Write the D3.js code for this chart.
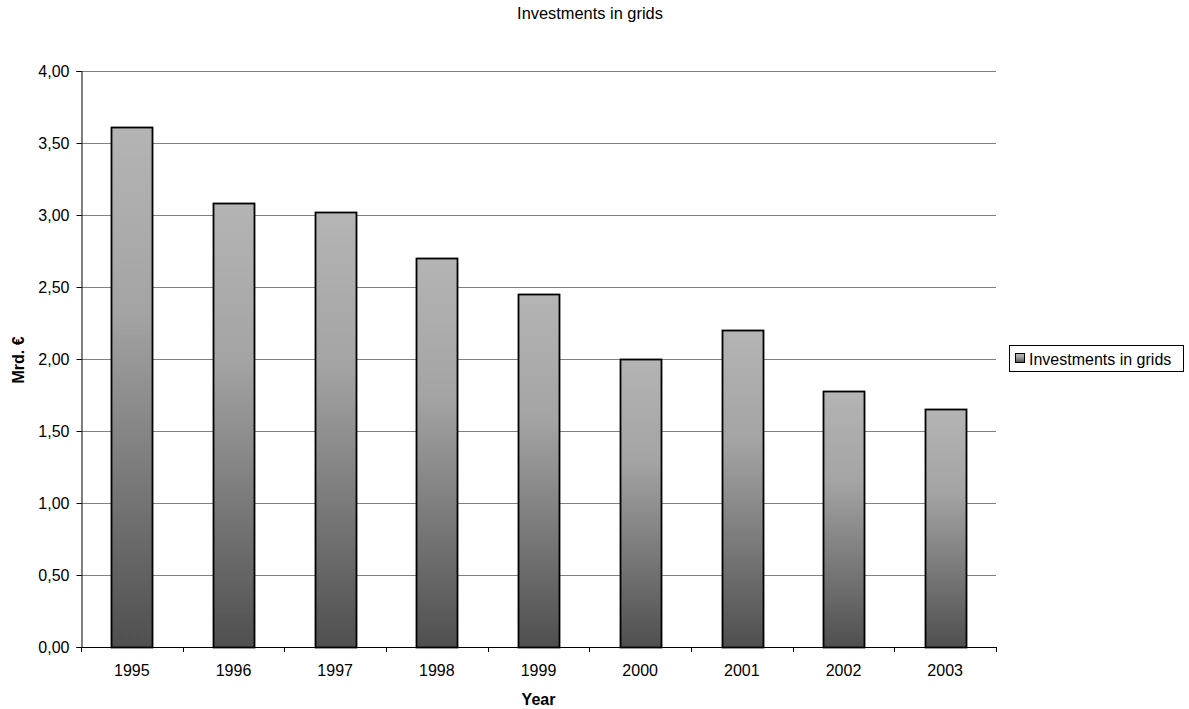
<!DOCTYPE html>
<html>
<head>
<meta charset="utf-8">
<script src="https://cdn.jsdelivr.net/npm/d3@7"></script>
<style>
  html, body { margin: 0; padding: 0; background: #fff; }
  svg { display: block; font-family: "Liberation Sans", Arial, sans-serif; }
</style>
</head>
<body>
<svg id="chart" width="1189" height="709"></svg>
<script>
// Annual investments in grids, billion euro
const years = ["1995", "1996", "1997", "1998", "1999", "2000", "2001", "2002", "2003"];
const investments = [3.61, 3.08, 3.02, 2.70, 2.45, 2.00, 2.20, 1.78, 1.65];
const yTicks = [0, 0.5, 1, 1.5, 2, 2.5, 3, 3.5, 4];
const seriesName = "Investments in grids";

const FONT = "Liberation Sans, Arial, sans-serif";
const svg = d3.select("#chart");
const margin = { left: 81, right: 996, top: 71, bottom: 647 };

const x = d3.scaleBand().domain(years).range([margin.left, margin.right]).paddingInner(0.6).paddingOuter(0.3);
const xEdges = d3.scaleLinear().domain([0, years.length]).range([margin.left, margin.right]);
const y = d3.scaleLinear().domain([0, 4]).range([margin.bottom, margin.top]);
const fmt = v => d3.format(".2f")(v).replace(".", ",");

// Vertical gradient for each bar: light at the top, dark at the base
const defs = svg.append("defs");
const grad = defs.append("linearGradient").attr("id", "barGrad")
  .attr("x1", 0).attr("y1", 0).attr("x2", 0).attr("y2", 1);
grad.append("stop").attr("offset", "0%").attr("stop-color", "#b4b4b4");
grad.append("stop").attr("offset", "35%").attr("stop-color", "#a4a4a4");
grad.append("stop").attr("offset", "100%").attr("stop-color", "#4f4f4f");

// Title
svg.append("text").attr("x", 590).attr("y", 19).attr("text-anchor", "middle")
  .attr("font-size", 16.4).attr("font-family", FONT).attr("fill", "#000").text(seriesName);

// Horizontal gridlines
svg.append("g").selectAll("line").data(yTicks.filter(d => d > 0)).join("line")
  .attr("x1", margin.left).attr("x2", margin.right)
  .attr("y1", d => Math.round(y(d)) + 0.5).attr("y2", d => Math.round(y(d)) + 0.5)
  .attr("stroke", "#808080").attr("stroke-width", 1);

// Y axis
const yAxis = d3.axisLeft(y).tickValues(yTicks).tickFormat(fmt).tickSize(5).tickPadding(7);
const gy = svg.append("g").attr("transform", `translate(${margin.left + 0.5},0)`).call(yAxis);
gy.attr("font-family", FONT).attr("font-size", 16);
gy.select(".domain").attr("stroke", "#000");
gy.selectAll(".tick line").attr("stroke", "#000");
gy.selectAll(".tick text").attr("fill", "#000").attr("dy", "0.35em");

// Bars
svg.append("g").selectAll("rect").data(years).join("rect")
  .attr("x", d => Math.round(x(d)) + 0.5)
  .attr("y", (d, i) => Math.round(y(investments[i])) + 0.5)
  .attr("width", Math.round(x.bandwidth()))
  .attr("height", (d, i) => Math.round(y(0)) - Math.round(y(investments[i])))
  .attr("fill", "url(#barGrad)")
  .attr("stroke", "#000").attr("stroke-width", 1.8);

// X axis: baseline, boundary ticks, category labels
const gx = svg.append("g");
gx.append("line").attr("x1", margin.left).attr("x2", margin.right)
  .attr("y1", margin.bottom + 0.5).attr("y2", margin.bottom + 0.5).attr("stroke", "#000");
gx.selectAll("line.tk").data(d3.range(years.length + 1)).join("line").attr("class", "tk")
  .attr("x1", i => Math.round(xEdges(i)) + 0.5).attr("x2", i => Math.round(xEdges(i)) + 0.5)
  .attr("y1", margin.bottom).attr("y2", margin.bottom + 5).attr("stroke", "#000");
gx.selectAll("text").data(years).join("text")
  .attr("x", d => x(d) + x.bandwidth() / 2).attr("y", 676)
  .attr("text-anchor", "middle").attr("font-size", 16).attr("font-family", FONT)
  .attr("fill", "#000").text(d => d);

// Axis titles
svg.append("text").attr("x", (margin.left + margin.right) / 2).attr("y", 705)
  .attr("text-anchor", "middle").attr("font-size", 16).attr("font-family", FONT)
  .attr("font-weight", "bold").text("Year");
svg.append("text").attr("transform", "translate(24,360) rotate(-90)")
  .attr("text-anchor", "middle").attr("font-size", 16).attr("font-family", FONT)
  .attr("font-weight", "bold").text("Mrd. €");

// Legend
const lg = svg.append("g").attr("transform", "translate(1009,345)");
lg.append("rect").attr("x", 0.5).attr("y", 0.5).attr("width", 174).attr("height", 26)
  .attr("fill", "#fff").attr("stroke", "#000");
lg.append("rect").attr("x", 6.5).attr("y", 8.5).attr("width", 9).attr("height", 9)
  .attr("fill", "url(#barGrad)").attr("stroke", "#000");
lg.append("text").attr("x", 20).attr("y", 19.5).attr("font-size", 16).attr("font-family", FONT)
  .attr("fill", "#000").text(seriesName);
</script>
</body>
</html>
